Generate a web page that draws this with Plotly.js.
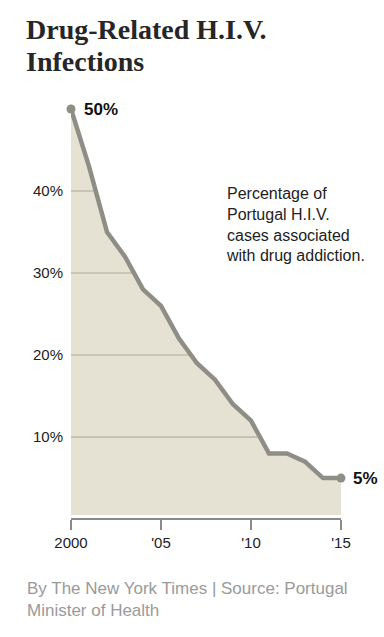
<!DOCTYPE html>
<html>
<head>
<meta charset="utf-8">
<script src="https://cdn.plot.ly/plotly-3.0.1.min.js"></script>
<style>
  html, body { margin: 0; padding: 0; background: #fff; }
  #chart { width: 384px; height: 637px; }
</style>
</head>
<body>
<div id="chart"></div>
<script>
// ---- data ----
const years = [2000, 2001, 2002, 2003, 2004, 2005, 2006, 2007, 2008, 2009, 2010, 2011, 2012, 2013, 2014, 2015];
const shareDrugRelated = [50, 43, 35, 32, 28, 26, 22, 19, 17, 14, 12, 8, 8, 7, 5, 5];
const gridLevels = [10, 20, 30, 40];
const yTickText = ['10%', '20%', '30%', '40%'];
const xTickVals = [2000, 2005, 2010, 2015];
const xTickText = ['2000', "'05", "'10", "'15"];
const titleLines = ['Drug-Related H.I.V.', 'Infections'];
const noteText = 'Percentage of<br>Portugal H.I.V.<br>cases associated<br>with drug addiction.';
const sourceText = 'By The New York Times | Source: Portugal<br>Minister of Health';

// ---- styles ----
const SANS = 'Liberation Sans, Arial, sans-serif';
const SERIF = 'Liberation Serif, Times New Roman, serif';
const FILL = '#e5e2d4';
const LINE = '#8e8e87';
const GRID = '#bfbdaf';
const AXIS = '#8a8a8a';

// gridlines only inside the filled area: from the first year to where the series crosses each level
function crossing(level) {
  for (let i = 1; i < years.length; i++) {
    const a = shareDrugRelated[i - 1], b = shareDrugRelated[i];
    if (a >= level && b <= level) {
      const t = (a - level) / (a - b);
      return years[i - 1] + t * (years[i] - years[i - 1]);
    }
  }
  return years[years.length - 1];
}

const traces = [];
traces.push({
  x: years, y: shareDrugRelated, type: 'scatter', mode: 'none',
  fill: 'tozeroy', fillcolor: FILL, hoverinfo: 'skip', showlegend: false
});
gridLevels.forEach(L => {
  traces.push({
    x: [years[0], crossing(L)], y: [L, L], type: 'scatter', mode: 'lines',
    line: { color: GRID, width: 1.6 }, hoverinfo: 'skip', showlegend: false
  });
});
const last = years.length - 1;
traces.push({
  x: years, y: shareDrugRelated, type: 'scatter', mode: 'lines',
  line: { color: LINE, width: 4.5, shape: 'linear' },
  cliponaxis: false, hoverinfo: 'skip', showlegend: false
});
traces.push({
  x: [years[0], years[last]], y: [shareDrugRelated[0], shareDrugRelated[last]],
  type: 'scatter', mode: 'markers',
  marker: { color: LINE, size: 9 },
  cliponaxis: false, hoverinfo: 'skip', showlegend: false
});

const H = 637, T = 109, B = 117.5;
const paperH = H - T - B;
const titleHtml = titleLines.map(s => '<span style="font-size:28px">' + s + '</span>').join('<br>');

const layout = {
  width: 384, height: 637,
  margin: { l: 71, r: 43, t: T, b: B, pad: 0 },
  paper_bgcolor: '#ffffff', plot_bgcolor: '#ffffff',
  showlegend: false,
  title: {
    text: titleHtml,
    font: { family: SERIF, size: 24.8, color: '#262626', weight: 'bold' },
    x: 26 / 384, xanchor: 'left', xref: 'container',
    y: 1 - 39 / 637, yanchor: 'top', yref: 'container'
  },
  xaxis: {
    range: [years[0], years[last]],
    anchor: 'free', position: 0,
    showgrid: false, zeroline: false,
    showline: true, linecolor: AXIS, linewidth: 2,
    ticks: 'outside', ticklen: 10, tickwidth: 2, tickcolor: AXIS,
    tickvals: xTickVals, ticktext: xTickText,
    tickfont: { family: SANS, size: 15, color: '#222' },
    fixedrange: true
  },
  yaxis: {
    range: [0.5, 50],
    domain: [4 / paperH, 1],
    showgrid: false, zeroline: false, showline: false,
    ticks: '', tickvals: gridLevels, ticktext: yTickText,
    ticklabelstandoff: 7,
    tickfont: { family: SANS, size: 15, color: '#222' },
    fixedrange: true
  },
  annotations: [
    {
      x: years[0], y: shareDrugRelated[0], xref: 'x', yref: 'y',
      text: '<b>' + shareDrugRelated[0] + '%</b>', showarrow: false,
      xanchor: 'left', yanchor: 'middle', xshift: 11,
      font: { family: SANS, size: 17, color: '#111' }
    },
    {
      x: years[last], y: shareDrugRelated[last], xref: 'x', yref: 'y',
      text: '<b>' + shareDrugRelated[last] + '%</b>', showarrow: false,
      xanchor: 'left', yanchor: 'middle', xshift: 10,
      font: { family: SANS, size: 17, color: '#111' }
    },
    {
      x: 2008.5, y: 35.9, xref: 'x', yref: 'y',
      text: noteText, showarrow: false, align: 'left',
      xanchor: 'left', yanchor: 'middle',
      font: { family: SANS, size: 16, color: '#222' }
    },
    {
      x: (25 - 71) / 270, y: (519.5 - 600) / paperH, xref: 'paper', yref: 'paper',
      text: sourceText, showarrow: false, align: 'left',
      xanchor: 'left', yanchor: 'middle',
      font: { family: SANS, size: 17, color: '#9a9a9a' }
    }
  ]
};

Plotly.newPlot('chart', traces, layout, { displayModeBar: false, staticPlot: true });
</script>
</body>
</html>
